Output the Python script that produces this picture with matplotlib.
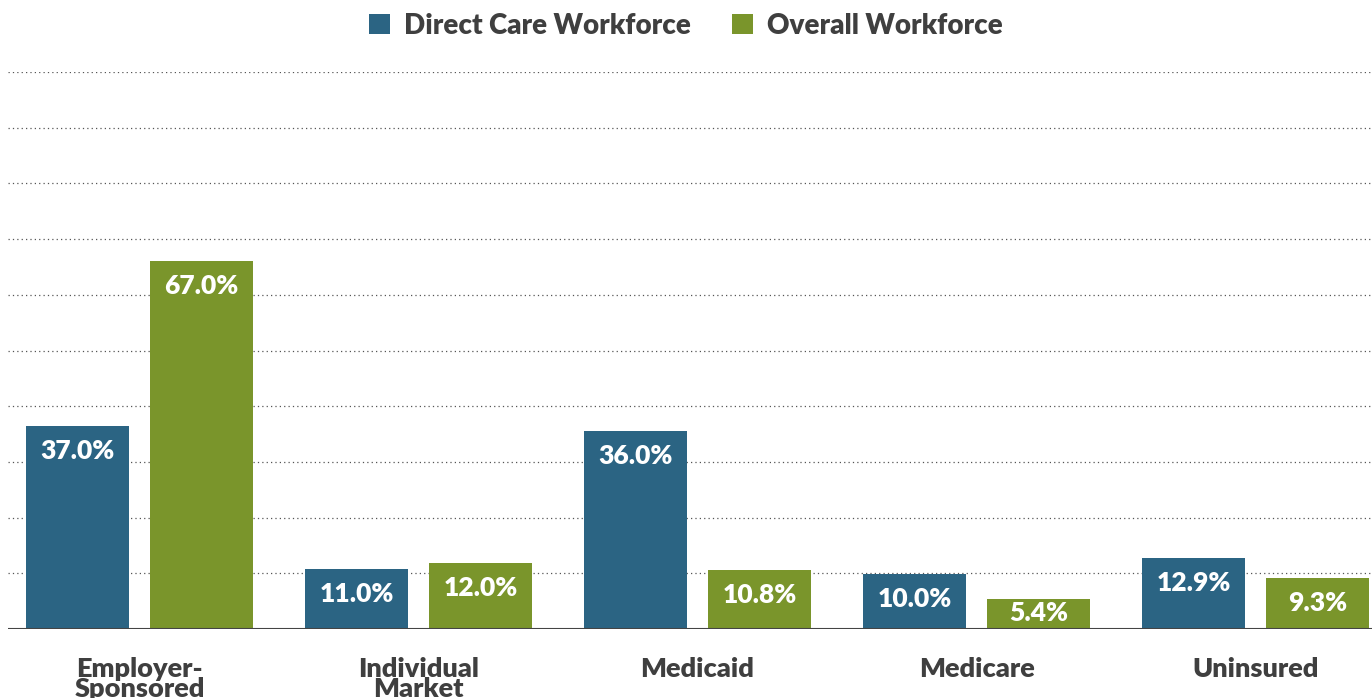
import matplotlib.pyplot as plt
import numpy as np

categories = ["Employer-\nSponsored", "Individual\nMarket", "Medicaid", "Medicare", "Uninsured"]
direct_care = [37.0, 11.0, 36.0, 10.0, 12.9]
overall = [67.0, 12.0, 10.8, 5.4, 9.3]
series_names = ["Direct Care Workforce", "Overall Workforce"]

blue = "#2b6483"
green = "#7a952b"
text_grey = "#3f3f3f"

plt.rcParams['font.family'] = ['Lato', 'DejaVu Sans']

fig = plt.figure(figsize=(13.72, 6.98), dpi=100)
ax = fig.add_axes([8 / 1372, 1 - 629 / 698, 1364 / 1372, 557 / 698])

x = np.arange(len(categories))
w = 0.369
off = 0.222
ymax = 101.3

# dotted guide lines, ten evenly spaced rows
for k in range(1, 11):
    ax.axhline(k * ymax / 10, color="#555555", lw=0.9, ls=(0, (1, 2.5)), zorder=0)

b1 = ax.bar(x - off, direct_care, w, color=blue, label=series_names[0], zorder=2)
b2 = ax.bar(x + off, overall, w, color=green, label=series_names[1], zorder=2)

for xs, vals in [(x - off, direct_care), (x + off, overall)]:
    for xi, v in zip(xs, vals):
        ax.text(xi, max(v - 4.6, 3.0), f"{v:.1f}%", ha="center", va="center",
                color="white", fontsize=19, fontweight="heavy", zorder=3)

ax.axhline(0, color="#444444", lw=1.5, zorder=4)

ax.set_xlim(-0.471, 4.417)
ax.set_ylim(0, ymax)
ax.set_yticks([])
ax.set_xticks(x)
ax.set_xticklabels(categories, fontsize=19.5, fontweight="heavy", color=text_grey,
                   linespacing=0.8, va="top")
ax.tick_params(axis="x", length=0, pad=20)
for s in ax.spines.values():
    s.set_visible(False)

fig.legend(handles=[b1, b2], loc="center", bbox_to_anchor=(0.5, 1 - 26 / 698),
           ncol=2, frameon=False, handlelength=0.75, handleheight=0.75,
           handletextpad=0.5, columnspacing=1.5, labelcolor=text_grey,
           prop={"weight": "heavy", "size": 20})

fig.savefig("out.png", dpi=100)
